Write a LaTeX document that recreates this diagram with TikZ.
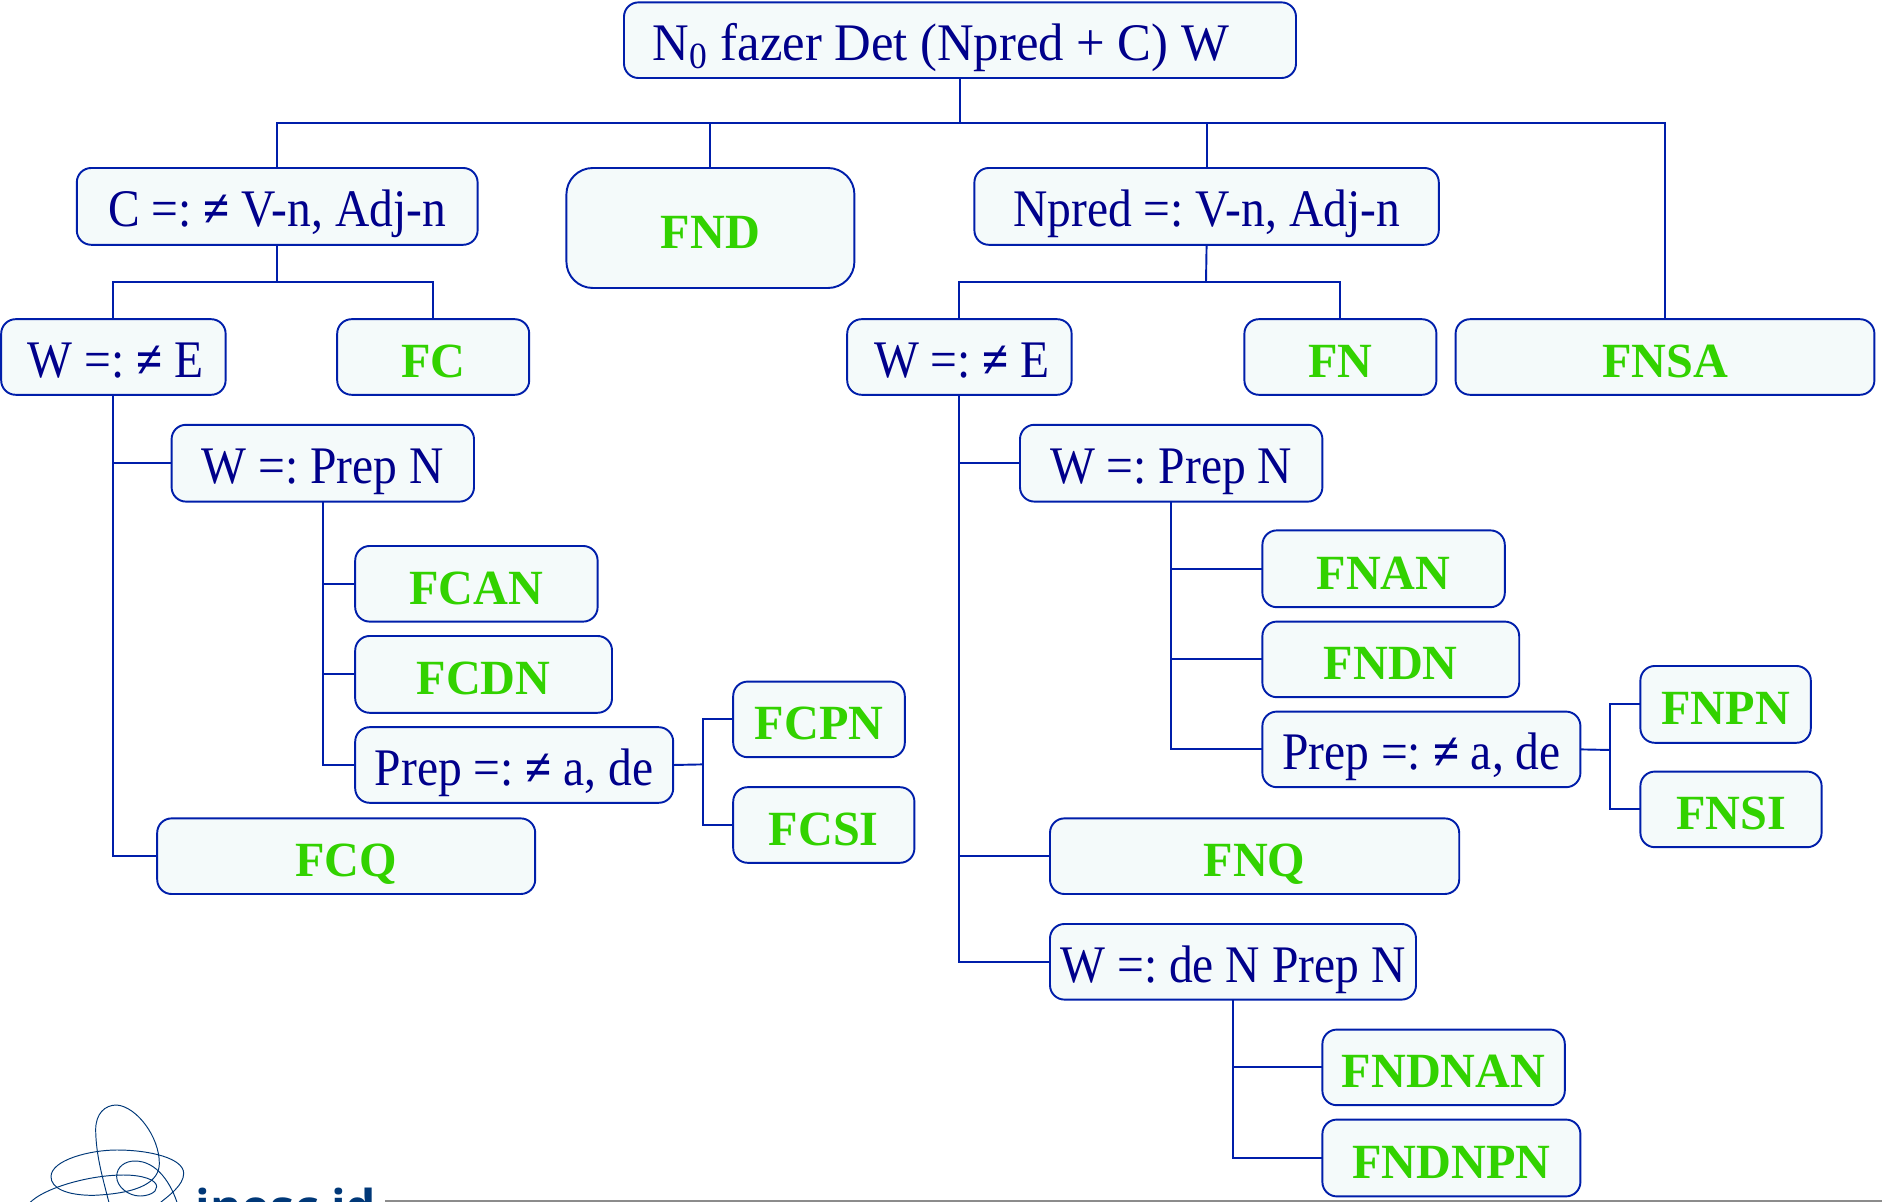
\documentclass[tikz,border=0pt]{standalone}
\usepackage{fontspec}
\setmainfont{Liberation Serif}
\newfontfamily\condfont[FakeStretch=0.90]{Liberation Serif}
\newfontfamily\topfont[FakeStretch=0.96]{Liberation Serif}
\newfontfamily\leaffont[FakeStretch=0.98]{Liberation Serif}
\newfontfamily\logofont{Open Sans}
\definecolor{navy}{RGB}{0,0,139}
\definecolor{edge}{RGB}{0,30,170}
\definecolor{grn}{RGB}{50,210,0}
\definecolor{boxfill}{RGB}{244,250,250}
\definecolor{logoblue}{RGB}{0,56,120}
\definecolor{rulegray}{RGB}{140,140,140}
\tikzset{
  x=0.5pt,y=-0.5pt,
  base/.style={draw=edge,fill=boxfill,line width=0.8pt,rounded corners=6pt,inner sep=0pt,outer sep=0pt,anchor=center},
  cond/.style={base,text=navy,font=\condfont\fontsize{22}{24}\selectfont},
  leaf/.style={base,text=grn,font=\leaffont\fontsize{20.5}{24}\selectfont\bfseries},
  conn/.style={draw=edge,line width=0.8pt},
  logoline/.style={draw=logoblue,line width=0.4pt}
}
\newcommand{\bx}[7]{% style name x1 x2 y1 y2 text
  \node[#1,minimum width=#4*0.5pt-#3*0.5pt,minimum height=#6*0.5pt-#5*0.5pt] (#2) at ({(#3+#4)/2},{(#5+#6)/2}) {#7};}
\newcommand{\low}[1]{\raisebox{-8.5pt}[0pt][0pt]{#1}}
\newcommand{\cbx}[6]{\bx{cond}{#1}{#2}{#3}{#4}{#5}{\low{#6}}}
\newcommand{\lbx}[6]{\bx{leaf}{#1}{#2}{#3}{#4}{#5}{\low{#6}}}
\newcommand{\nq}{{\bfseries ≠}}
\frenchspacing
\begin{document}
\begin{tikzpicture}
\useasboundingbox (0,0) rectangle (1568.33,1001.67);
\clip (0,0) rectangle (1568.33,1001.67);
\coordinate (bus) at (800,102.5);
\coordinate (busc) at (231,235);
\coordinate (busn) at (1005,235);
\coordinate (spl) at (586,637);
\coordinate (spr) at (1342,625);
\cbx{top}{520}{1080}{2}{65}{\topfont N\textsubscript{0} fazer Det (Npred + C) W\hspace*{16pt}}
\cbx{cbox}{64}{398}{140}{204}{C =: \nq{} V-n, Adj-n}
\node[leaf,rounded corners=11pt,minimum width=120pt,minimum height=50pt] (fnd) at (592,190) {\low{FND}};
\cbx{npred}{812}{1199}{140}{204}{Npred =: V-n, Adj-n}
\cbx{wa}{1}{188}{266}{329}{\hspace*{2pt}W =: \nq{} E}
\lbx{fc}{281}{441}{266}{329}{FC}
\cbx{wb}{706}{893}{266}{329}{\hspace*{2pt}W =: \nq{} E}
\lbx{fn}{1037}{1197}{266}{329}{FN}
\lbx{fnsa}{1213}{1562}{266}{329}{FNSA}
\cbx{pna}{143}{395}{354}{418}{W =: Prep N}
\lbx{fcan}{296}{498}{455}{518}{FCAN}
\lbx{fcdn}{296}{510}{530}{594}{FCDN}
\cbx{prepa}{296}{561}{606}{669}{Prep =: \nq{} a, de}
\lbx{fcpn}{611}{754}{568}{631}{FCPN}
\lbx{fcsi}{611}{762}{656}{719}{FCSI}
\lbx{fcq}{131}{446}{682}{745}{FCQ}
\cbx{pnb}{850}{1102}{354}{418}{W =: Prep N}
\lbx{fnan}{1052}{1254}{442}{506}{FNAN}
\lbx{fndn}{1052}{1266}{518}{581}{FNDN}
\cbx{prepb}{1052}{1317}{593}{656}{Prep =: \nq{} a, de}
\lbx{fnpn}{1367}{1509}{555}{619}{FNPN}
\lbx{fnsi}{1367}{1518}{643}{706}{FNSI}
\lbx{fnq}{875}{1216}{682}{745}{FNQ}
\cbx{wc}{875}{1180}{770}{833}{W =: de N Prep N}
\lbx{fndnan}{1102}{1304}{858}{921}{FNDNAN}
\lbx{fndnpn}{1102}{1317}{933}{997}{FNDNPN}
\draw[conn] (top.south) -- (bus);
\draw[conn] (bus) -| (cbox.north);
\draw[conn] (bus) -| (fnd.north);
\draw[conn] (bus) -| (npred.north);
\draw[conn] (bus) -| (fnsa.north);
\draw[conn] (cbox.south) -- (busc);
\draw[conn] (busc) -| (wa.north);
\draw[conn] (busc) -| (fc.north);
\draw[conn] (npred.south) -- (busn);
\draw[conn] (busn) -| (wb.north);
\draw[conn] (busn) -| (fn.north);
\draw[conn] (wa.south) |- (pna.west);
\draw[conn] (wa.south) |- (fcq.west);
\draw[conn] (pna.south) |- (fcan.west);
\draw[conn] (pna.south) |- (fcdn.west);
\draw[conn] (pna.south) |- (prepa.west);
\draw[conn] (prepa.east) -- (spl);
\draw[conn] (spl) |- (fcpn.west);
\draw[conn] (spl) |- (fcsi.west);
\draw[conn] (wb.south) |- (pnb.west);
\draw[conn] (wb.south) |- (fnq.west);
\draw[conn] (wb.south) |- (wc.west);
\draw[conn] (pnb.south) |- (fnan.west);
\draw[conn] (pnb.south) |- (fndn.west);
\draw[conn] (pnb.south) |- (prepb.west);
\draw[conn] (prepb.east) -- (spr);
\draw[conn] (spr) |- (fnpn.west);
\draw[conn] (spr) |- (fnsi.west);
\draw[conn] (wc.south) |- (fndnan.west);
\draw[conn] (wc.south) |- (fndnpn.west);
\fill[rulegray] (321,999.8) rectangle (1568.33,1001.67);
\begin{scope}[shift={(0pt,-437.5pt)},x=0.1389pt,y=-0.1389pt]
\draw[logoline] (330,470) .. controls (310,390) and (288,320) .. (287,240) .. controls (287,190) and (315,165) .. (350,165) .. controls (410,170) and (478,260) .. (478,340) .. controls (478,395) and (420,430) .. (280,436) .. controls (200,436) and (153,415) .. (153,380) .. controls (153,330) and (270,300) .. (350,300) .. controls (450,300) and (551,325) .. (551,370) .. controls (551,405) and (510,435) .. (465,470);
\draw[logoline] (80,470) .. controls (110,420) and (260,375) .. (370,375) .. controls (430,375) and (470,390) .. (470,410) .. controls (470,430) and (440,438) .. (420,438) .. controls (385,438) and (350,410) .. (350,380) .. controls (350,350) and (375,333) .. (405,333) .. controls (470,333) and (515,400) .. (535,470);
\end{scope}
\node[inner sep=0pt,outer sep=0pt,anchor=base west,text=logoblue,font=\logofont\bfseries\fontsize{20}{24}\selectfont] (logotext) at (163,1020) {inesc id};
\end{tikzpicture}
\end{document}
